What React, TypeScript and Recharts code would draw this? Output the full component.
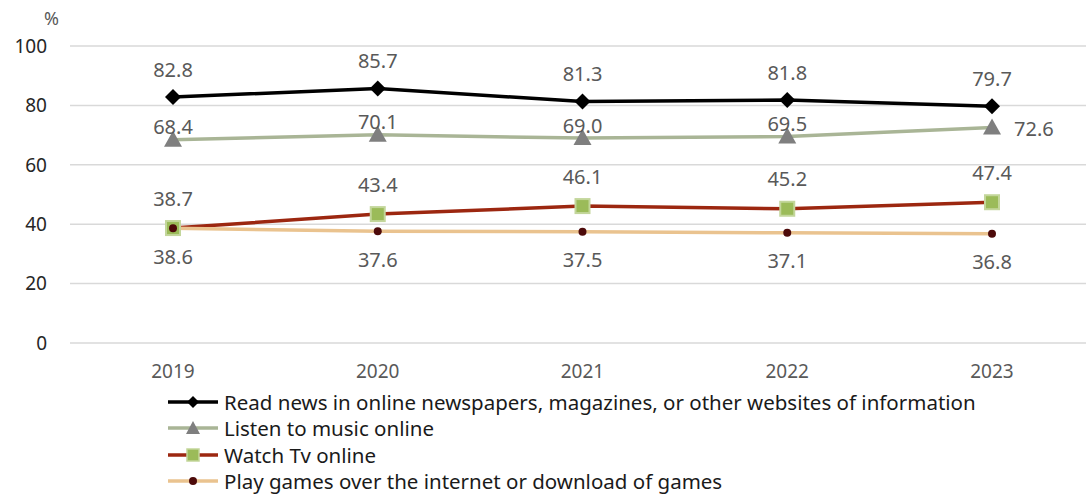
import React from 'react';
import { LineChart, Line, XAxis, YAxis, CartesianGrid, LabelList } from 'recharts';

const years = ['2019', '2020', '2021', '2022', '2023'];
const readNews = [82.8, 85.7, 81.3, 81.8, 79.7];
const listenMusic = [68.4, 70.1, 69.0, 69.5, 72.6];
const watchTv = [38.7, 43.4, 46.1, 45.2, 47.4];
const playGames = [38.6, 37.6, 37.5, 37.1, 36.8];
const yTicks = [0, 20, 40, 60, 80, 100];

const seriesNames = {
  news: 'Read news in online newspapers, magazines, or other websites of information',
  music: 'Listen to music online',
  tv: 'Watch Tv online',
  games: 'Play games over the internet or download of games',
};

const data = years.map((year, i) => ({
  year,
  news: readNews[i],
  music: listenMusic[i],
  tv: watchTv[i],
  games: playGames[i],
}));

const FONT = '"Noto Sans", "Open Sans", sans-serif';
const LABEL_COLOR = '#595959';

const Diamond = ({ cx, cy }: any) => (
  <path d={`M${cx},${cy - 8}L${cx + 8},${cy}L${cx},${cy + 8}L${cx - 8},${cy}Z`} fill="#000" />
);
const Triangle = ({ cx, cy }: any) => (
  <path d={`M${cx},${cy - 9}L${cx + 9},${cy + 7}L${cx - 9},${cy + 7}Z`} fill="#7f7f7f" />
);
const Square = ({ cx, cy }: any) => (
  <rect x={cx - 7} y={cy - 7} width={14} height={14} fill="#9bbb59" stroke="#c3d69b" strokeWidth={2} />
);
const Dot = ({ cx, cy }: any) => <circle cx={cx} cy={cy} r={4} fill="#4d0a0a" />;

const makeLabel = (dy: number, lastDx?: number) => (props: any) => {
  const { x, y, value, index } = props;
  const isLastRight = lastDx !== undefined && index === years.length - 1;
  return (
    <text
      x={isLastRight ? x + lastDx : x}
      y={isLastRight ? y + 1 : y + dy}
      textAnchor={isLastRight ? 'start' : 'middle'}
      dominantBaseline="central"
      fill={LABEL_COLOR}
      fontSize={20}
      fontFamily={FONT}
    >
      {Number(value).toFixed(1)}
    </text>
  );
};

const legendItems = [
  { name: seriesNames.news, color: '#000', marker: 'diamond' },
  { name: seriesNames.music, color: '#a9b596', marker: 'triangle' },
  { name: seriesNames.tv, color: '#9c2710', marker: 'square' },
  { name: seriesNames.games, color: '#eac38f', marker: 'dot' },
];

const LegendIcon = ({ color, marker }: { color: string; marker: string }) => (
  <svg width={54} height={16} style={{ marginRight: 4, flexShrink: 0 }}>
    <line x1={2} y1={8} x2={52} y2={8} stroke={color} strokeWidth={3.5} />
    {marker === 'diamond' && <path d="M27,2L33,8L27,14L21,8Z" fill="#000" />}
    {marker === 'triangle' && <path d="M27,1L34,14L20,14Z" fill="#7f7f7f" />}
    {marker === 'square' && <rect x={21} y={2} width={12} height={12} fill="#9bbb59" stroke="#c3d69b" strokeWidth={1.5} />}
    {marker === 'dot' && <circle cx={27} cy={8} r={4} fill="#4d0a0a" />}
  </svg>
);

export default function App() {
  return (
    <div style={{ position: 'absolute', left: 0, top: 0, width: 1086, height: 494, background: '#fff', overflow: 'hidden' }}>
      <div style={{ position: 'absolute', left: 44, top: 6, fontFamily: FONT, fontSize: 18, color: LABEL_COLOR }}>%</div>
      <LineChart width={1086} height={494} data={data} margin={{ top: 46, right: 0, left: 0, bottom: 121 }}>
        <CartesianGrid vertical={false} stroke="#d9d9d9" strokeWidth={1.5} />
        <XAxis
          dataKey="year"
          axisLine={false}
          tickLine={false}
          padding={{ left: 103, right: 94 }}
          tick={{ fill: LABEL_COLOR, fontSize: 19, fontFamily: FONT }}
          tickMargin={16}
        />
        <YAxis
          domain={[0, 100]}
          ticks={yTicks}
          width={70}
          axisLine={false}
          tickLine={false}
          tickMargin={17}
          tick={{ fill: '#262626', fontSize: 19, fontFamily: FONT }}
        />
        <Line dataKey="news" name={seriesNames.news} stroke="#000" strokeWidth={3.5} dot={<Diamond />} activeDot={false} isAnimationActive={false}>
          <LabelList dataKey="news" content={makeLabel(-28)} />
        </Line>
        <Line dataKey="music" name={seriesNames.music} stroke="#a9b596" strokeWidth={3.5} dot={<Triangle />} activeDot={false} isAnimationActive={false}>
          <LabelList dataKey="music" content={makeLabel(-13, 22)} />
        </Line>
        <Line dataKey="tv" name={seriesNames.tv} stroke="#9c2710" strokeWidth={3.5} dot={<Square />} activeDot={false} isAnimationActive={false}>
          <LabelList dataKey="tv" content={makeLabel(-30)} />
        </Line>
        <Line dataKey="games" name={seriesNames.games} stroke="#eac38f" strokeWidth={3.5} dot={<Dot />} activeDot={false} isAnimationActive={false}>
          <LabelList dataKey="games" content={makeLabel(28)} />
        </Line>
      </LineChart>
      <div style={{ position: 'absolute', left: 166, top: 389, width: 900, fontFamily: FONT, fontSize: 20.5, color: '#1a1a1a' }}>
        {legendItems.map((item) => (
          <div key={item.name} style={{ display: 'flex', alignItems: 'center', height: 26.3, whiteSpace: 'nowrap' }}>
            <LegendIcon color={item.color} marker={item.marker} />
            <span>{item.name}</span>
          </div>
        ))}
      </div>
    </div>
  );
}
